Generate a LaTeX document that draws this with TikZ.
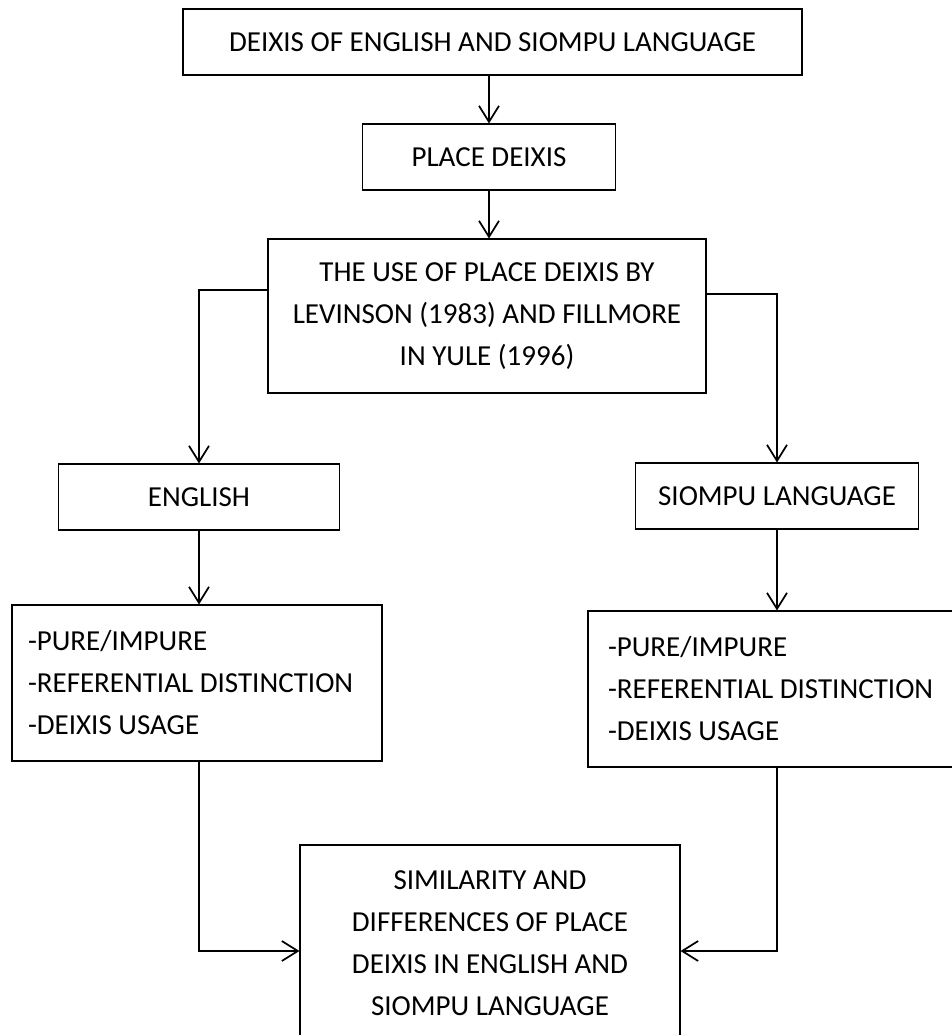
\documentclass[tikz,border=0pt]{standalone}
\usepackage{fontspec}
\setmainfont{Carlito}
\usetikzlibrary{arrows.meta}
\begin{document}
\begin{tikzpicture}[x=0.75pt,y=-0.75pt,
  box/.style={draw, line width=0.8pt, inner sep=0pt, font=\fontsize{21.75}{31.5}\selectfont, align=center},
  listbox/.style={box, align=flush left, text width=253.5pt},
  conn/.style={line width=1.3pt, -{Straight Barb[length=12pt,width=15pt,line width=1.3pt]}}]
\useasboundingbox (0,0) rectangle (952,1035);
\node[box, minimum width=464.25pt, minimum height=49.5pt] (b1) at (492.5,42) {DEIXIS OF ENGLISH AND SIOMPU LANGUAGE};
\node[box, minimum width=189.75pt, minimum height=49.5pt] (b2) at (489,157) {PLACE DEIXIS};
\node[box, minimum width=328.5pt, minimum height=115.5pt] (b3) at (487,316) {THE USE OF PLACE DEIXIS BY\\LEVINSON (1983) AND FILLMORE\\IN YULE (1996)};
\node[box, minimum width=210.75pt, minimum height=49.5pt] (eng) at (199,497) {ENGLISH};
\node[box, minimum width=212.25pt, minimum height=49.5pt] (sio) at (777,496) {SIOMPU LANGUAGE};
\node[listbox, minimum width=277.5pt, minimum height=117pt] (l1) at (197,683) {-PURE/IMPURE\\-REFERENTIAL DISTINCTION\\-DEIXIS USAGE};
\node[listbox, minimum width=283.5pt, minimum height=117pt] (l2) at (777,689) {-PURE/IMPURE\\-REFERENTIAL DISTINCTION\\-DEIXIS USAGE};
\node[box, minimum width=285pt, minimum height=147pt] (fin) at (490,943) {SIMILARITY AND\\DIFFERENCES OF PLACE\\DEIXIS IN ENGLISH AND\\SIOMPU LANGUAGE};
\draw[conn] (b2.north |- b1.south) -- (b2.north);
\draw[conn] (b2.south) -- (b2.south |- b3.north);
\draw[conn] ([yshift=19.5pt]b3.west) -| (eng.north);
\draw[conn] ([yshift=16.5pt]b3.east) -| (sio.north);
\draw[conn] (eng.south) -- (eng.south |- l1.north);
\draw[conn] (sio.south) -- (l2.north);
\draw[conn] (eng.south |- l1.south) |- ([yshift=-6pt]fin.west);
\draw[conn] (l2.south) |- ([yshift=-6pt]fin.east);
\end{tikzpicture}
\end{document}
